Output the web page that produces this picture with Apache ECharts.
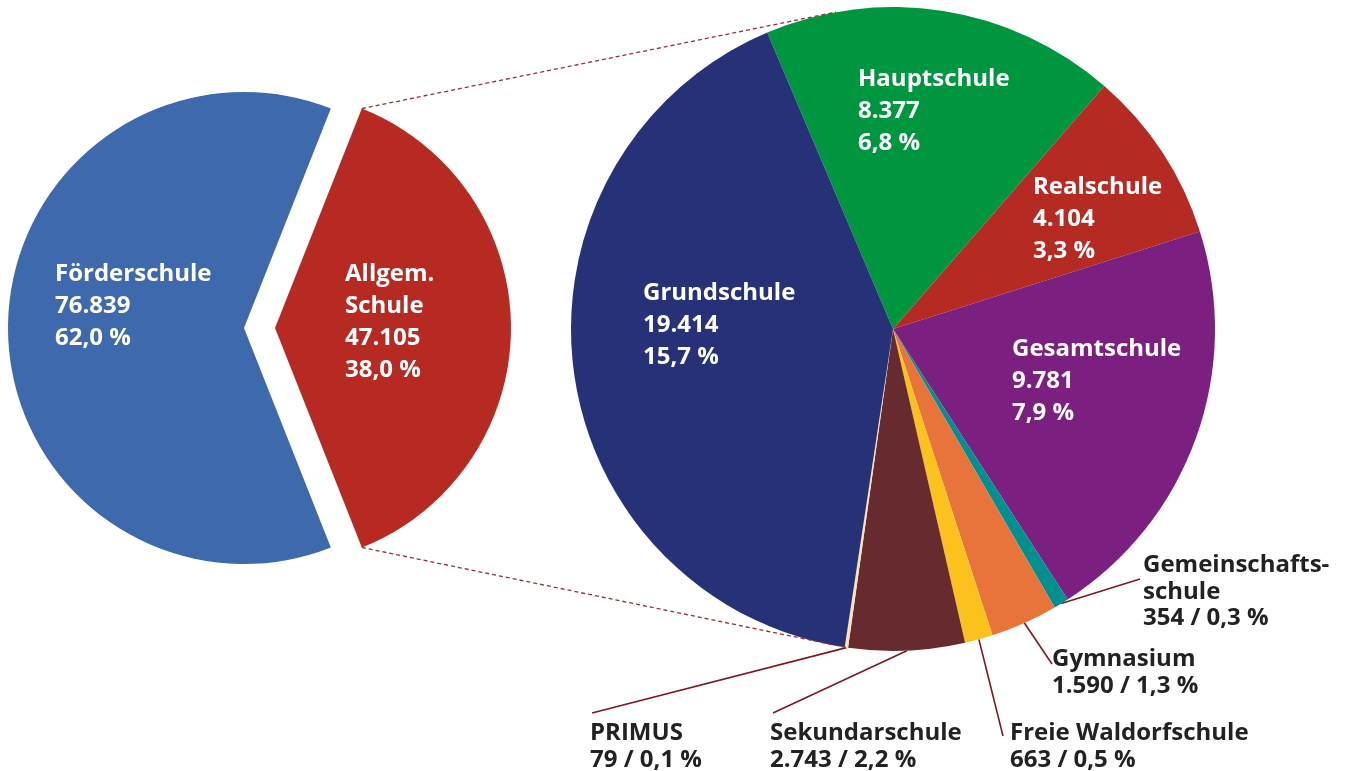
<!DOCTYPE html>
<html><head><meta charset="utf-8">
<script src="https://cdn.jsdelivr.net/npm/echarts@6/dist/echarts.min.js"></script>
<style>html,body{margin:0;padding:0;background:#fff}#c{width:1348px;height:771px}</style>
</head><body><div id="c"></div>
<script>
// ---- data ----
const leftNames = ['Allgem.\nSchule', 'Förderschule'];
const leftValues = [47105, 76839];
const rightNames = ['Hauptschule', 'Realschule', 'Gesamtschule', 'Gemeinschafts-\nschule', 'Gymnasium', 'Freie Waldorfschule', 'Sekundarschule', 'PRIMUS', 'Grundschule'];
const rightValues = [8377, 4104, 9781, 354, 1590, 663, 2743, 79, 19414];
const rightOutside = [false, false, false, true, true, true, true, true, false];

// ---- styles / layout ----
const leftColors = ['#b72a22', '#3e6aad'];
const rightColors = ['#009640', '#b52b24', '#7b1f80', '#00908f', '#e8743c', '#fbc21e', '#672a2f', '#fde4b5', '#263177'];
const FONT = 'Open Sans';
const FS = 24;
const L = { cx: 244, cy: 328, r: 236, offset: 31 };
const R = { cx: 893, cy: 329, r: 322, start: 113 };
// label top-left positions relative to pie centres
const leftLabelPos = [[101, -70], [-189, -70]];
const rightLabelPos = [[-35, -266], [140, -158], [119, 4], [250, 223], [159, 317], [117, 391], [-123, 391], [-303, 391], [-250, -52]];
const rightLineEnd = [null, null, null, [247, 250], [159, 335], [110, 407], [-120, 384], [-301, 384], null];
const connectorAngles = [100.2, -98.1];

const total = leftValues.reduce((a, b) => a + b, 0);
const fmtNum = v => String(v).replace(/\B(?=(\d{3})+(?!\d))/g, '.');
const fmtPct = v => (v / total * 100).toFixed(1).replace('.', ',') + ' %';

const chart = echarts.init(document.getElementById('c'), null, { renderer: 'canvas' });

const richIn = { w: { color: '#ffffff', fontFamily: FONT, fontWeight: 'bold', fontSize: FS, lineHeight: 32 } };
const richOut = { d: { color: '#222222', fontFamily: FONT, fontWeight: 'bold', fontSize: FS, lineHeight: 26.5 } };
const inFmt = p => p.name.split('\n').map(s => '{w|' + s + '}').join('\n') + '\n{w|' + fmtNum(p.value) + '}\n{w|' + fmtPct(p.value) + '}';

const NONE = 'rgba(0,0,0,0)';
// left pie: one series per slice so the exploded slice can sit on its own centre
const leftBaseData = leftNames.map((n, i) => ({
  name: n, value: leftValues[i],
  itemStyle: { color: i === 1 ? leftColors[i] : NONE },
  label: { show: i === 1 }
}));
const leftExplodedData = leftNames.map((n, i) => ({
  name: n, value: leftValues[i],
  itemStyle: { color: i === 0 ? leftColors[i] : NONE },
  label: { show: i === 0 }
}));

const rightData = rightNames.map((n, i) => {
  const o = { name: n, value: rightValues[i], itemStyle: { color: rightColors[i] } };
  if (rightOutside[i]) {
    o.label = { position: 'outside', formatter: p => '{d|' + p.name + '}\n{d|' + fmtNum(p.value) + ' / ' + fmtPct(p.value) + '}', rich: richOut };
    o.labelLine = { show: true, length: 10, length2: 10, smooth: false, lineStyle: { color: '#7a1c1f', width: 1.6 } };
  }
  return o;
});

// mid angle (degrees, math convention) of right slices computed from the data
const rightSum = rightValues.reduce((a, b) => a + b, 0);
const midAngles = [];
(function () {
  let a = R.start;
  rightValues.forEach(v => {
    const span = v / rightSum * 360;
    midAngles.push(a - span / 2);
    a -= span;
  });
})();

// connector lines between the exploded slice and the right pie
const halfDeg = leftValues[0] / total * 180;
const half = halfDeg * Math.PI / 180;
const apexX = L.cx + L.offset;
const redTop = [apexX + L.r * Math.cos(half), L.cy - L.r * Math.sin(half)];
const redBot = [apexX + L.r * Math.cos(half), L.cy + L.r * Math.sin(half)];
const rp = a => [R.cx + R.r * Math.cos(a * Math.PI / 180), R.cy - R.r * Math.sin(a * Math.PI / 180)];
const cTop = rp(connectorAngles[0]);
const cBot = rp(connectorAngles[1]);
const dashStyle = { stroke: '#8b3535', lineWidth: 1.3, lineDash: [4, 3] };

const leftCommon = {
  type: 'pie',
  radius: [0, L.r],
  startAngle: halfDeg,
  clockwise: true,
  silent: true,
  avoidLabelOverlap: false,
  itemStyle: { borderWidth: 0 },
  emphasis: { disabled: true },
  label: { position: 'inside', formatter: inFmt, rich: richIn },
  labelLine: { show: false },
  labelLayout: p => ({
    x: L.cx + leftLabelPos[p.dataIndex][0],
    y: L.cy + leftLabelPos[p.dataIndex][1],
    align: 'left', verticalAlign: 'top'
  })
};

chart.setOption({
  animation: false,
  backgroundColor: '#ffffff',
  graphic: [
    { type: 'line', z: 10, shape: { x1: redTop[0], y1: redTop[1], x2: cTop[0], y2: cTop[1] }, style: dashStyle },
    { type: 'line', z: 10, shape: { x1: redBot[0], y1: redBot[1], x2: cBot[0], y2: cBot[1] }, style: dashStyle }
  ],
  series: [
    Object.assign({}, leftCommon, { center: [L.cx, L.cy], data: leftBaseData }),
    Object.assign({}, leftCommon, { center: [L.cx + L.offset, L.cy], data: leftExplodedData }),
    {
      type: 'pie',
      center: [R.cx, R.cy],
      radius: [0, R.r],
      startAngle: R.start,
      clockwise: true,
      silent: true,
      avoidLabelOverlap: false,
      minShowLabelAngle: 0,
      itemStyle: { borderWidth: 0 },
      emphasis: { disabled: true },
      label: { show: true, position: 'inside', formatter: inFmt, rich: richIn },
      labelLine: { show: false },
      labelLayout: p => {
        const i = p.dataIndex;
        const res = {
          x: R.cx + rightLabelPos[i][0],
          y: R.cy + rightLabelPos[i][1],
          align: 'left', verticalAlign: 'top'
        };
        if (rightLineEnd[i]) {
          const s = rp(midAngles[i]);
          const e = [R.cx + rightLineEnd[i][0], R.cy + rightLineEnd[i][1]];
          res.labelLinePoints = [s, e, e];
        }
        return res;
      },
      data: rightData
    }
  ]
});
</script>
</body></html>
